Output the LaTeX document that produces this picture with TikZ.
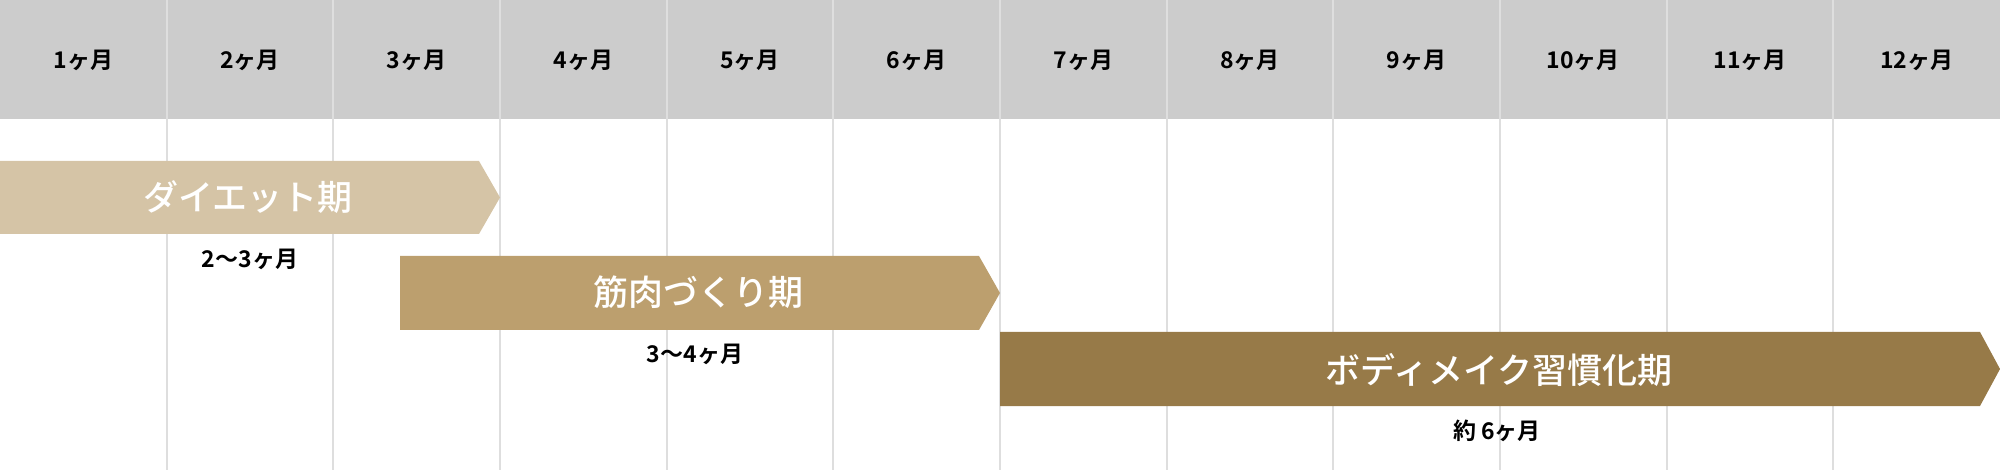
\documentclass[tikz,border=0pt]{standalone}
\usepackage{fontspec}
\setmainfont{Noto Sans CJK JP}[BoldFont={Noto Sans CJK JP Bold}]
\newfontfamily\jpmedium{Noto Sans CJK JP Medium}
\definecolor{headgray}{HTML}{CCCCCC}
\definecolor{gridgray}{HTML}{DEDEDE}
\definecolor{dietbar}{HTML}{D5C4A6}
\definecolor{musclebar}{HTML}{BC9F6E}
\definecolor{habitbar}{HTML}{977A48}

\begin{document}
\begin{tikzpicture}[x=1pt,y=-1pt,
	month/.style={font=\fontsize{23}{23}\selectfont\bfseries,inner sep=0pt},
	phase/.style={font=\fontsize{35}{35}\selectfont\jpmedium,text=white,inner sep=0pt},
	span/.style={font=\fontsize{23}{23}\selectfont\bfseries,inner sep=0pt}]
	\useasboundingbox (0,0) rectangle (2000,470);
	\fill[headgray] (0,0) rectangle (2000,119);
	\foreach \m in {1,...,11}
		\draw[gridgray,line width=2pt] (\m*166.67,0) -- (\m*166.67,470);
	\foreach \m in {1,...,12}
		\node[month] (m\m) at (\m*166.67-83.33,60) {\m ヶ月};

	% phases
	\fill[dietbar] (0,161) -- (479,161) -- (500,197.5) -- (479,234) -- (0,234) -- cycle;
	\fill[musclebar] (400,256) -- (979,256) -- (1000,293) -- (979,330) -- (400,330) -- cycle;
	\fill[habitbar] (1000,332) -- (1980,332) -- (2000,369) -- (1980,406) -- (1000,406) -- cycle;

	\node[phase] (diet) at (248,197) {ダイエット期};
	\node[span] (dietlen) at (250,259) {2〜3ヶ月};
	\node[phase] (muscle) at (698,292) {筋肉づくり期};
	\node[span] (musclelen) at (695,354) {3〜4ヶ月};
	\node[phase] (habit) at (1499,370) {ボディメイク習慣化期};
	\node[span] (habitlen) at (1497,431) {約 6ヶ月};
\end{tikzpicture}
\end{document}
